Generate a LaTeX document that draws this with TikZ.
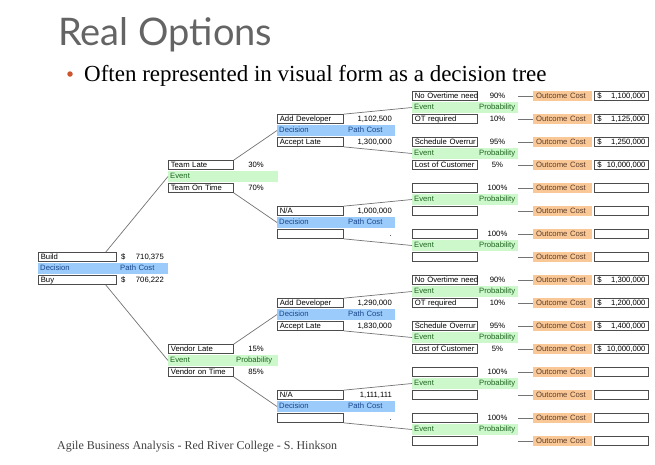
\documentclass[tikz,border=0pt]{standalone}
\usepackage{fontspec}
\setmainfont{Liberation Serif}
\newfontfamily\titlefont{Lato}
\newfontfamily\treefont{Liberation Sans}
\usepackage{tikz}
\usetikzlibrary{positioning}
\definecolor{decfill}{RGB}{155,203,250}
\definecolor{dectext}{RGB}{25,70,140}
\definecolor{evtfill}{RGB}{204,248,204}
\definecolor{evttext}{RGB}{30,100,30}
\definecolor{costfill}{RGB}{250,200,150}
\definecolor{costtext}{RGB}{90,60,40}
\definecolor{titlegray}{RGB}{100,100,100}
\definecolor{bulletred}{RGB}{205,85,45}

\begin{document}
\begin{tikzpicture}[x=1pt, y=-1pt,
			font=\treefont\fontsize{7.7}{9}\selectfont,
			lbl/.style={inner sep=0pt, text height=5.6pt, text depth=1.6pt},
			box/.style={lbl, draw=black!70, line width=0.7pt, anchor=west, inner xsep=2.5pt, inner ysep=0.9pt, text width=#1, align=left},
			band/.style={lbl, anchor=west, inner xsep=2pt, inner ysep=1.65pt, text width=#1, align=left},
			dec/.style={band=#1, fill=decfill, text=dectext},
			evt/.style={band=#1, fill=evtfill, text=evttext},
			cost/.style={lbl, anchor=west, fill=costfill, text=costtext, inner xsep=3pt, inner ysep=1.4pt, text width=53pt},
			val/.style={box=48pt, inner xsep=3pt},
			edge/.style={draw=black!55, line width=0.7pt}]
			% Bildbereich
			\useasboundingbox (0,0) rectangle (655,464);
			% title, bullet and footer
			\node[anchor=base west, inner sep=0pt, text=titlegray, font=\titlefont\fontsize{38}{40}\selectfont] (title) at (58,45) {Real Options};
			\node[circle, fill=bulletred, inner sep=0pt, minimum size=5.5pt] (dot) at (70,74) {};
			\node[anchor=base west, inner sep=0pt, font=\rmfamily\fontsize{23}{26}\selectfont] (lead) at (84,81) {Often represented in visual form as a decision tree};
			\node[anchor=base west, inner sep=0pt, text=black!75, font=\rmfamily\fontsize{12}{14}\selectfont] (foot) at (57,449) {Agile Business Analysis - Red River College - S. Hinkson};
			% root decision
			\node[box=73pt] (build) at (38,257) {Build};
			\node[dec=126pt] (root) at (38,268.5) {\makebox[80pt][l]{Decision}Path Cost};
			\node[box=73pt] (buy) at (38,280) {Buy};
			\node[lbl, anchor=west] (bcur) at (121,257) {\$};
			\node[lbl, anchor=east] (bval) at (164,257) {710,375};
			\node[lbl, anchor=west] (ycur) at (121,280) {\$};
			\node[lbl, anchor=east] (yval) at (164,280) {706,222};
			% first events
			\node[box=60pt] (tlate) at (168,165) {Team Late};
			\node[evt=106pt] (team) at (168,176.5) {Event};
			\node[box=60pt] (tontime) at (168,188) {Team On Time};
			\node[lbl] (p30) at (256,165) {30\%};
			\node[lbl] (p70) at (256,188) {70\%};
			\node[box=60pt] (vlate) at (168,349) {Vendor Late};
			\node[evt=106pt] (vendor) at (168,360.5) {\makebox[66pt][l]{Event}Probability};
			\node[box=60pt] (vontime) at (168,372) {\mbox{Vendor on Time}};
			\node[lbl] (p15) at (256,349) {15\%};
			\node[lbl] (p85) at (256,372) {85\%};
			% second decisions
			\foreach \r/\ta/\va/\tb/\vb in {3/Add Developer/1{,}102{,}500/Accept Late/1{,}300{,}000,
					11/N{/}A/1{,}000{,}000/{}/.,
					19/Add Developer/1{,}290{,}000/Accept Late/1{,}830{,}000,
					27/N{/}A/1{,}111{,}111/{}/.} {
				\pgfmathsetmacro\ym{96+11.5*\r}
				\pgfmathsetmacro\yt{\ym-11.5}
				\pgfmathsetmacro\yb{\ym+11.5}
				\node[box=61pt] (dctop\r) at (277,\yt) {\mbox{\ta}};
				\node[dec=114pt] (dc\r) at (277,\ym) {\makebox[69pt][l]{Decision}Path Cost};
				\node[box=61pt] (dcbot\r) at (277,\yb) {\mbox{\tb}};
				\node[lbl, anchor=east] (dcva\r) at (392,\yt) {\va};
				\node[lbl, anchor=east] (dcvb\r) at (392,\yb) {\vb};
			}
			% second events and outcomes
			\foreach \r/\ta/\pa/\ca/\tb/\pb/\cb in {1/No Overtime need/90\%/{\$\hfill1{,}100{,}000}/OT required/10\%/{\$\hfill1{,}125{,}000},
					5/Schedule Overrur/95\%/{\$\hfill1{,}250{,}000}/Lost of Customer/5\%/{\$\hfill10{,}000{,}000},
					9/{}/100\%/{}/{}/{}/{},
					13/{}/100\%/{}/{}/{}/{},
					17/No Overtime need/90\%/{\$\hfill1{,}300{,}000}/OT required/10\%/{\$\hfill1{,}200{,}000},
					21/Schedule Overrur/95\%/{\$\hfill1{,}400{,}000}/Lost of Customer/5\%/{\$\hfill10{,}000{,}000},
					25/{}/100\%/{}/{}/{}/{},
					29/{}/100\%/{}/{}/{}/{}} {
				\pgfmathsetmacro\ym{96+11.5*\r}
				\pgfmathsetmacro\yt{\ym-11.5}
				\pgfmathsetmacro\yb{\ym+11.5}
				\node[box=60pt] (evtop\r) at (412,\yt) {\mbox{\ta}};
				\node[evt=102pt] (ev\r) at (412,\ym) {\makebox[65pt][l]{Event}Probability};
				\node[box=60pt] (evbot\r) at (412,\yb) {\mbox{\tb}};
				\node[lbl] (pa\r) at (497.5,\yt) {\pa};
				\node[lbl] (pb\r) at (497.5,\yb) {\pb};
				\node[cost] (oca\r) at (533,\yt) {Outcome Cost};
				\node[cost] (ocb\r) at (533,\yb) {Outcome Cost};
				\node[val] (ova\r) at (594,\yt) {\ca};
				\node[val] (ovb\r) at (594,\yb) {\cb};
				\draw[edge] ([xshift=-15pt]oca\r.west) -- (oca\r.west);
				\draw[edge] ([xshift=-15pt]ocb\r.west) -- (ocb\r.west);
			}
			% branches
			\draw[edge] ([xshift=-11pt]build.north east) -- (team.west);
			\draw[edge] ([xshift=-11pt]buy.south east) -- (vendor.west);
			\draw[edge] (tlate.north east) -- (dc3.west);
			\draw[edge] (tontime.south east) -- (dc11.west);
			\draw[edge] (vlate.north east) -- (dc19.west);
			\draw[edge] (vontime.south east) -- (dc27.west);
			\foreach \r/\a/\b in {3/1/5, 11/9/13, 19/17/21, 27/25/29} {
				\draw[edge] (dctop\r.north east) -- (ev\a.west);
				\draw[edge] (dcbot\r.south east) -- (ev\b.west);
			}
		\end{tikzpicture}
\end{document}
